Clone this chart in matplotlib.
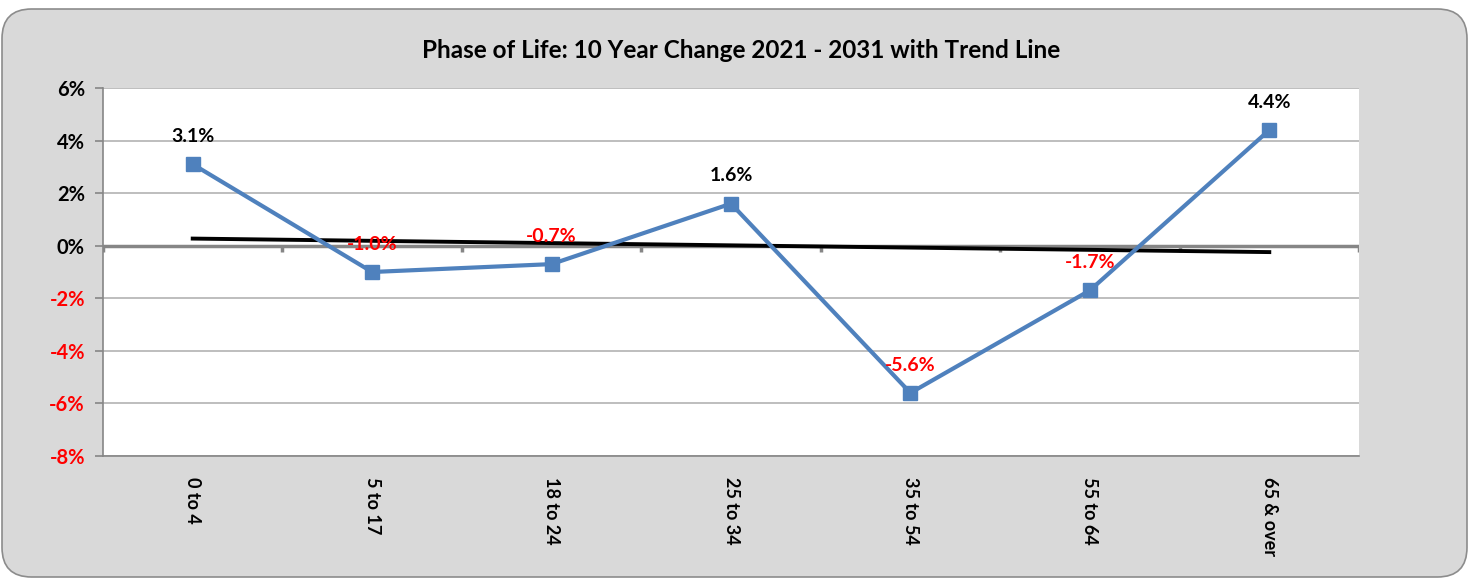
import matplotlib
matplotlib.use("Agg")
import matplotlib.pyplot as plt
import numpy as np
from matplotlib.patches import FancyBboxPatch
from matplotlib.ticker import FixedLocator

categories = ["0 to 4", "5 to 17", "18 to 24", "25 to 34", "35 to 54", "55 to 64", "65 & over"]
values = [3.1, -1.0, -0.7, 1.6, -5.6, -1.7, 4.4]
labels = ["3.1%", "-1.0%", "-0.7%", "1.6%", "-5.6%", "-1.7%", "4.4%"]
yticks = [-8, -6, -4, -2, 0, 2, 4, 6]
title = "Phase of Life: 10 Year Change 2021 - 2031 with Trend Line"

plt.rcParams['font.family'] = ['Lato', 'DejaVu Sans']

fig = plt.figure(figsize=(14.8, 5.79), dpi=100)
fig.patch.set_facecolor('white')
bg = FancyBboxPatch((2/1480, 2/579), 1465/1480, 568/579,
                    boxstyle="round,pad=0,rounding_size=0.02",
                    transform=fig.transFigure, facecolor='#d9d9d9',
                    edgecolor='#8c8c8c', linewidth=1.2, mutation_aspect=1480/579,
                    zorder=-10)
fig.patches.append(bg)

ax = fig.add_axes([103/1480, 1 - 456/579, (1359 - 103)/1480, (456 - 88)/579])
ax.set_zorder(5)
ax.set_facecolor('white')

x = np.arange(len(categories))
ax.set_xlim(-0.5, len(categories) - 0.5)
ax.set_ylim(-8, 6)

for yv in yticks:
    if yv != 0:
        ax.axhline(yv, color='#b3b3b3', lw=1.2, zorder=1)
ax.axhline(0, color='#868686', lw=2.5, zorder=2)
# category boundary ticks on zero line
for b in np.arange(-0.5, len(categories), 1.0):
    ax.plot([b, b], [0, -0.25], color='#868686', lw=2.5, zorder=2, solid_capstyle='butt')

# trend line (least squares fit of the series)
coef = np.polyfit(x, values, 1)
ax.plot(x, np.polyval(coef, x), color='black', lw=2.8, zorder=3)

ax.plot(x, values, color='#4f81bd', lw=3, marker='s', markersize=10,
        markerfacecolor='#4f81bd', markeredgecolor='#4f81bd', zorder=4)

for xi, v, lab in zip(x, values, labels):
    ax.annotate(lab, (xi, v), xytext=(0, 20), textcoords='offset points',
                ha='center', va='center', fontsize=14, fontweight='bold',
                color='black' if v >= 0 else 'red', zorder=5)

for s in ['top', 'right']:
    ax.spines[s].set_visible(False)
ax.spines['left'].set_color('#868686')
ax.spines['bottom'].set_color('#868686')
ax.spines['left'].set_linewidth(1.2)
ax.spines['bottom'].set_linewidth(1.2)

ax.yaxis.set_major_locator(FixedLocator(yticks))
ax.set_yticklabels([f"{t}%" for t in yticks], fontsize=14.5, fontweight='bold')
for t, lbl in zip(yticks, ax.get_yticklabels()):
    lbl.set_color('red' if t < 0 else 'black')
ax.tick_params(axis='y', length=6, color='#868686', width=1.2, pad=7)

ax.set_xticks(x)
ax.set_xticklabels(categories, rotation=-90, fontsize=13, fontweight='bold', va='top')
ax.tick_params(axis='x', length=0, pad=15)

fig.text(741/1480, 1 - 50/579, title, ha='center', va='center', fontsize=17.5, fontweight='bold')

fig.savefig("out.png", dpi=100, facecolor=fig.get_facecolor())
